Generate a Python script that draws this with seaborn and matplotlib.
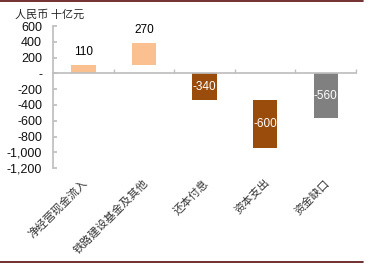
import matplotlib
matplotlib.use("Agg")
import matplotlib.pyplot as plt
import matplotlib.transforms as mtransforms
from matplotlib.lines import Line2D
from matplotlib.ticker import FuncFormatter
import seaborn as sns
import pandas as pd

categories = ["净经营现金流入", "铁路建设基金及其他", "还本付息", "资本支出", "资金缺口"]
values = [110, 270, -340, -600, -560]
bases = [0, 110, 0, -340, 0]
colors = ["#FAC090", "#FAC090", "#994C0C", "#994C0C", "#808080"]
yticks = [600, 400, 200, 0, -200, -400, -600, -800, -1000, -1200]

sns.set_theme(style="white")
plt.rcParams["font.family"] = ["Liberation Sans", "Noto Sans CJK SC", "DejaVu Sans"]

fig = plt.figure(figsize=(3.69, 2.66), dpi=100)
ax = fig.add_axes([0.144, 0.368, 0.821, 0.534])

df = pd.DataFrame({"cat": categories, "val": values})
sns.barplot(data=df, x="cat", y="val", ax=ax, width=0.4, bottom=bases,
            color="#FAC090", saturation=1, linewidth=0)
for p, c in zip(ax.patches, colors):
    p.set_facecolor(c)

# value labels
for i, (v, b) in enumerate(zip(values, bases)):
    if v > 0:
        ax.annotate(f"{v}", (i, b + v), xytext=(0, 5), textcoords="offset points",
                    ha="center", va="bottom", fontsize=8.5, color="black")
    else:
        ax.text(i, b + v / 2, f"{v}", ha="center", va="center", fontsize=8.5, color="white")

ax.set_ylim(-1200, 600)
ax.set_xlim(-0.5, len(categories) - 0.5)
ax.set_yticks(yticks)
ax.yaxis.set_major_formatter(FuncFormatter(lambda y, _: "-" if y == 0 else f"{int(y):,}"))
ax.tick_params(axis="y", direction="in", length=3, color="#BFBFBF", labelsize=9,
               pad=8, left=True, labelcolor="#111111")
ax.set_xlabel("")
ax.set_ylabel("")

for s in ["top", "right"]:
    ax.spines[s].set_visible(False)
ax.spines["left"].set_color("#BFBFBF")
ax.spines["bottom"].set_position(("data", 0))
ax.spines["bottom"].set_color("#BFBFBF")
ax.set_xticks([i + 0.5 for i in range(len(categories))], minor=True)
ax.set_xticks(range(len(categories)))
ax.set_xticklabels([""] * len(categories))
ax.tick_params(axis="x", which="major", length=0)
ax.tick_params(axis="x", which="minor", direction="in", length=3, color="#BFBFBF", bottom=True)

trans = mtransforms.blended_transform_factory(ax.transData, ax.transAxes)
for i, c in enumerate(categories):
    ax.text(i - 0.02, -0.065, c, transform=trans, rotation=45, ha="right", va="top",
            rotation_mode="anchor", fontsize=8, color="#333333",
            family=["Noto Sans CJK SC", "DejaVu Sans"])

fig.text(0.04, 0.945, "人民币 十亿元", fontsize=8, ha="left", va="center",
         family=["Noto Sans CJK SC", "DejaVu Sans"])

fig.add_artist(Line2D([0, 0.985], [0.996, 0.996], color="#5A0A0A", linewidth=1.2,
                      transform=fig.transFigure))
fig.add_artist(Line2D([0, 0.985], [0.016, 0.016], color="#5A0A0A", linewidth=1.2,
                      transform=fig.transFigure))

fig.savefig("out.png", dpi=100)
